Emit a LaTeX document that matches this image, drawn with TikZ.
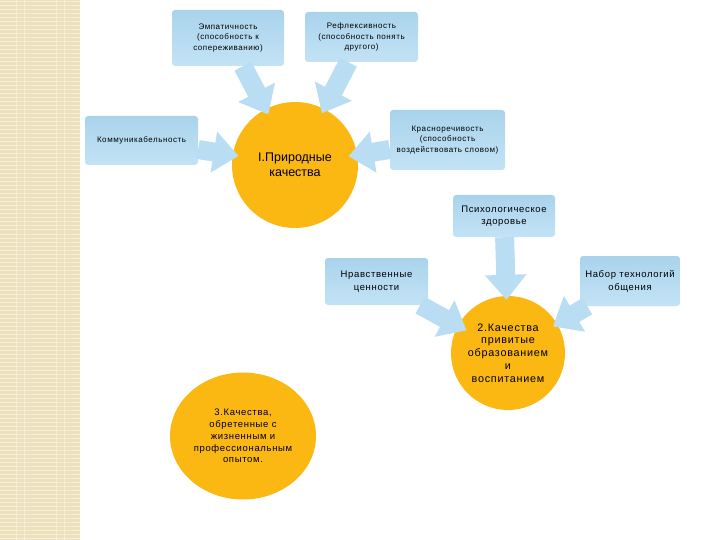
\documentclass[tikz,border=0pt]{standalone}
\usepackage{fontspec}
\setmainfont{Liberation Sans}
\newfontfamily\spaced[LetterSpace=7]{Liberation Sans}
\usetikzlibrary{shapes.geometric, arrows.meta, positioning}
\definecolor{boxtop}{HTML}{A9D3EC}
\definecolor{boxbot}{HTML}{C3E3F5}
\definecolor{arrblue}{HTML}{B9DDF2}
\definecolor{circgold}{HTML}{FBB813}
\definecolor{stripbeige}{HTML}{EDE0BD}
\definecolor{stripline}{HTML}{F6EED5}
\tikzstyle{quality} = [rectangle, rounded corners=3pt, inner sep=2pt, text centered, align=center, top color=boxtop, bottom color=boxbot, font=\spaced\fontsize{8}{10.5}\selectfont]
\tikzstyle{group} = [circle, fill=circgold, text centered, align=center, inner sep=0pt]
\tikzstyle{bigarrow} = [line width=19pt, draw=arrblue, -{Triangle[length=25pt,width=40pt]}]

\begin{document}
\begin{tikzpicture}[x=1pt, y=-1pt]
\useasboundingbox (0,0) rectangle (720,540);

% left strip
\fill[stripbeige] (0,0) rectangle (80,540);
\foreach \y in {2,6,...,540}
  \draw[stripline, line width=1pt] (0,\y) -- (80,\y);
\foreach \x in {16,24,56,64}
  \draw[stripline, line width=0.6pt] (\x,0) -- (\x,540);

% groups of qualities
\node (natural) [group, minimum size=126pt, font=\fontsize{12.5}{15}\selectfont] at (295,165) {I.Природные\\качества};
\node (taught) [group, minimum size=114pt, font=\spaced\fontsize{10.8}{12.8}\selectfont] at (508,353) {2.Качества\\привитые\\образованием\\и\\воспитанием};
\node (life) [ellipse, fill=circgold, text centered, align=center, inner sep=0pt, minimum width=146pt, minimum height=127pt, font=\spaced\fontsize{9.5}{11.8}\selectfont] at (243,436) {3.Качества,\\обретенные с\\жизненным и\\профессиональным\\опытом.};

% qualities
\node (empathy) [quality, minimum width=112pt, minimum height=56pt] at (228,38) {Эмпатичность\\(способность к\\сопереживанию)};
\node (reflex) [quality, minimum width=113pt, minimum height=50pt] at (361.5,37) {Рефлексивность\\(способность понять\\другого)};
\node (sociable) [quality, minimum width=113pt, minimum height=49pt] at (141.5,140.5) {Коммуникабельность};
\node (eloquent) [quality, minimum width=115pt, minimum height=60pt] at (447.5,140) {Красноречивость\\(способность\\воздействовать словом)};
\node (health) [quality, minimum width=102pt, minimum height=42pt, font=\spaced\fontsize{9.5}{12}\selectfont] at (504,216) {Психологическое\\здоровье};
\node (moral) [quality, minimum width=103pt, minimum height=47pt, font=\spaced\fontsize{9.5}{13}\selectfont] at (376.5,281.5) {Нравственные\\ценности};
\node (techs) [quality, minimum width=100pt, minimum height=50pt, font=\spaced\fontsize{9.5}{13}\selectfont] at (630,281) {Набор технологий\\общения};

% arrows
\draw [bigarrow, shorten >=-6pt] (empathy) -- (natural);
\draw [bigarrow, shorten >=-5pt] (reflex) -- (natural);
\draw [bigarrow, shorten >=-6pt] (sociable) -- (natural);
\draw [bigarrow, shorten >=-9pt] (eloquent) -- (natural);
\draw [bigarrow, shorten >=-4pt] (health) -- (taught);
\draw [bigarrow, shorten >=-10pt] (moral) -- (taught);
\draw [bigarrow, shorten >=-5pt] (techs) -- (taught);

\end{tikzpicture}
\end{document}
